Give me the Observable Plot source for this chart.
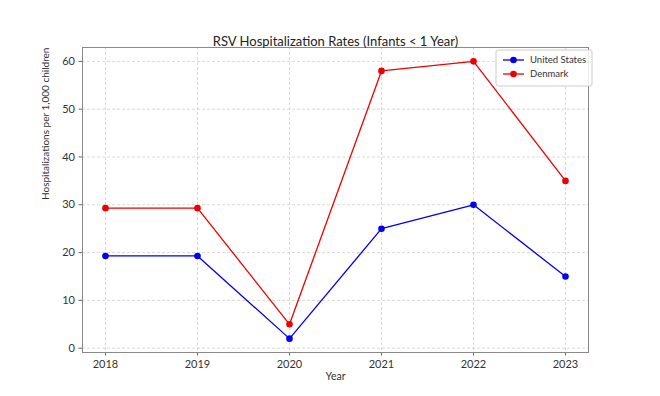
<!DOCTYPE html>
<html><head><meta charset="utf-8">
<script src="https://cdn.jsdelivr.net/npm/d3@7"></script>
<script src="https://cdn.jsdelivr.net/npm/@observablehq/plot@0.6"></script>
<style>body{margin:0;background:#fff;font-family:Lato,"Open Sans",sans-serif;}</style>
</head><body><div id="chart"></div>
<script>
const years = [2018, 2019, 2020, 2021, 2022, 2023];
const usRates = [19.3, 19.3, 2, 25, 30, 15];
const dkRates = [29.3, 29.3, 5, 58, 60, 35];
const yTicks = [0, 10, 20, 30, 40, 50, 60];
const seriesNames = ["United States", "Denmark"];
const seriesColors = ["#0000ee", "#ee0000"];

const data = [
  ...years.map((y, i) => ({year: y, value: usRates[i], series: seriesNames[0]})),
  ...years.map((y, i) => ({year: y, value: dkRates[i], series: seriesNames[1]}))
];

const font = "Lato, 'Open Sans', sans-serif";
const plot = Plot.plot({
  width: 660, height: 396,
  marginLeft: 82, marginRight: 72, marginTop: 47, marginBottom: 44,
  style: {fontFamily: font, background: "#fff", color: "#333"},
  x: {domain: [2017.75, 2023.25], label: null},
  y: {domain: [-0.9, 62.9], label: null},
  color: {domain: seriesNames, range: seriesColors},
  marks: [
    Plot.gridX(years, {stroke: "#cfcfcf", strokeOpacity: 1, strokeDasharray: "3,2", strokeWidth: 0.8}),
    Plot.gridY(yTicks, {stroke: "#cfcfcf", strokeOpacity: 1, strokeDasharray: "3,2", strokeWidth: 0.8}),
    Plot.axisX(years, {tickSize: 3.5, tickPadding: 4, tickFormat: d => String(d), fontSize: 11, label: null, stroke: "#666", fill: "#333"}),
    Plot.axisY(yTicks, {tickSize: 3.5, tickPadding: 4, fontSize: 11, label: null, stroke: "#666", fill: "#333"}),
    Plot.frame({stroke: "#888", strokeWidth: 1}),
    Plot.line(data, {x: "year", y: "value", stroke: "series", strokeWidth: 1.3}),
    Plot.dot(data, {x: "year", y: "value", fill: "series", r: 3.3}),
    Plot.text(["RSV Hospitalization Rates (Infants < 1 Year)"], {frameAnchor: "top", dy: -11, fontSize: 13, fill: "#222"}),
    Plot.text(["Year"], {frameAnchor: "bottom", dy: 27, fontSize: 10.5, fill: "#333"}),
    Plot.text(["Hospitalizations per 1,000 children"], {frameAnchor: "left", rotate: -90, dx: -37, fontSize: 10, fill: "#333"})
  ]
});
document.getElementById("chart").appendChild(plot);

// legend
const svg = d3.select(plot);
const lg = svg.append("g").attr("font-family", font).attr("font-size", 9.5).attr("text-anchor", "start");
lg.append("rect").attr("x", 496).attr("y", 50).attr("width", 96).attr("height", 36)
  .attr("rx", 2).attr("fill", "#fff").attr("fill-opacity", 0.85).attr("stroke", "#ccc");
seriesNames.forEach((name, i) => {
  const y = 60 + i * 14;
  lg.append("line").attr("x1", 503).attr("x2", 524).attr("y1", y).attr("y2", y)
    .attr("stroke", seriesColors[i]).attr("stroke-width", 1.3);
  lg.append("circle").attr("cx", 513.5).attr("cy", y).attr("r", 3.3).attr("fill", seriesColors[i]);
  lg.append("text").attr("x", 530).attr("y", y).attr("dy", "0.35em").attr("text-anchor", "start").attr("fill", "#333").text(name);
});
</script></body></html>
